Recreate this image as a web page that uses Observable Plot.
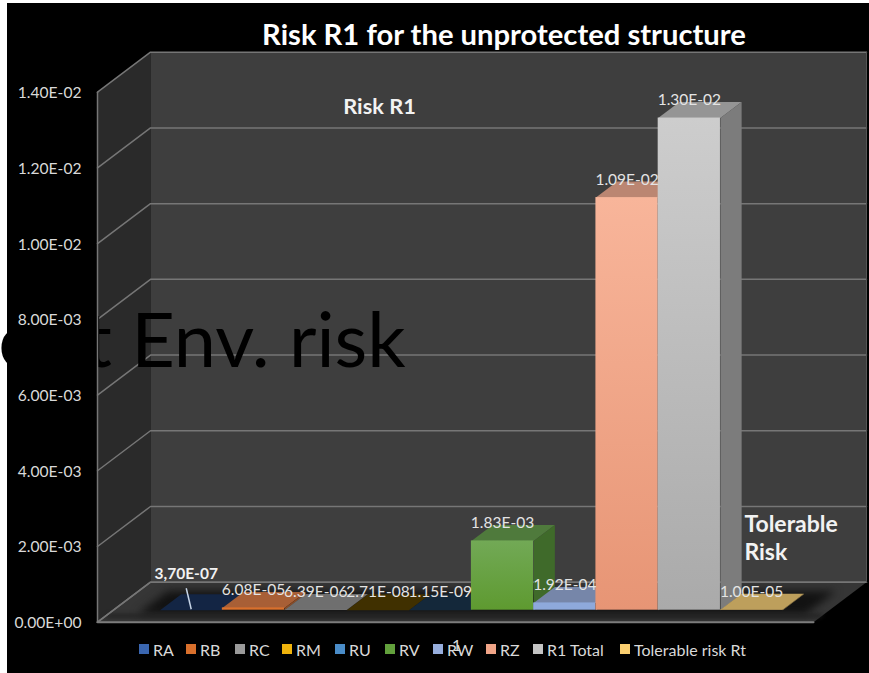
<!DOCTYPE html>
<html>
<head>
<meta charset="utf-8">
<script src="https://cdn.jsdelivr.net/npm/d3@7"></script>
<script src="https://cdn.jsdelivr.net/npm/@observablehq/plot@0.6"></script>
<style>
  html, body { margin: 0; background: #fff; font-family: Lato, sans-serif; }
  #page { margin: 3px 0 0 7px; width: 862px; height: 670px; background: #000; position: relative; }
  #title { margin-left: 135px; width: 724px; height: 28px; padding-top: 17px; line-height: 28px; text-align: center;
           color: #fff; font-weight: 700; font-size: 29.2px; white-space: nowrap; }
  #legend { position: relative; height: 22px; padding-left: 132px; display: flex; align-items: center;
            color: #d9d9d9; font-size: 16px; box-sizing: border-box; }
  #legend .item { display: flex; align-items: center; gap: 4px; white-space: nowrap; flex: none; }
  #legend .swatch { width: 10px; height: 10px; display: inline-block; }
  #legend .axis1 { position: absolute; left: 445px; top: -3px; color: #d9d9d9; }
</style>
</head>
<body>
<div id="page">
  <div id="title">Risk R1 for the unprotected structure</div>
  <div id="chart"></div>
  <div id="legend"></div>
</div>
<script>
// Risk components of the unprotected structure
const categories = ["RA", "RB", "RC", "RM", "RU", "RV", "RW", "RZ", "R1 Total", "Tolerable risk Rt"];
const values = [3.7e-7, 6.08e-5, 6.39e-6, 2.71e-8, 1.15e-9, 1.83e-3, 1.92e-4, 1.09e-2, 1.30e-2, 1.0e-5];
const yTicks = [0, 0.002, 0.004, 0.006, 0.008, 0.01, 0.012, 0.014];

// Series colours: legend key, lit front face, shaded top and side faces
const keyColors = ["#3a66b0", "#d9702c", "#9a9a9a", "#efb30c", "#4a8cc8", "#62a03c", "#97aedd", "#f0a487", "#c4c4c4", "#fbcf70"];
const frontTop = ["#16294c", "#d9702c", "#7c7c7c", "#4a3800", "#14283c", "#72a956", "#8ea9db", "#f8b59a", "#cdcdcd", "#c7a55f"];
const frontBottom = ["#16294c", "#d9702c", "#7c7c7c", "#4a3800", "#14283c", "#5e9a30", "#8ea9db", "#e79575", "#aaaaaa", "#c7a55f"];
const topColors = ["#132544", "#a85f36", "#6f6f6f", "#403000", "#14283a", "#4f7a3c", "#7686a9", "#bb8672", "#959595", "#bd9f5c"];
const sideColors = ["#10203a", "#8a4d28", "#5c5c5c", "#332700", "#10202f", "#3f6a2a", "#66749a", "#9b6f5e", "#7c7c7c", "#a08650"];

// Column width of each legend entry
const legendWidths = [47, 49, 47, 53, 50, 48, 53, 47, 87, 130];

const fontFamily = "Lato, sans-serif";
const xMin = -0.75, xMax = 10.75, yMax = 0.014;

// Oblique projection: one unit of depth slides a point along the floor towards the back wall
const depthX = 53 / 62.26, depthY = 40 / 37860;
const pt = (u, v, d = 0) => ({x: u + d * depthX, y: v + d * depthY});
const barFront = 0.3, barBack = 0.7;

const formatE = v => {
  const [m, e] = v.toExponential(2).toUpperCase().split("E");
  const sign = e[0] === "-" ? "-" : "+";
  return `${m}E${sign}${e.replace(/[-+]/, "").padStart(2, "0")}`;
};
const labels = values.map(formatE).map((t, i) => i === 0 ? t.replace(".", ",") : t);

const poly = (points, fill, extra = {}) =>
  Plot.line(points, {x: "x", y: "y", fill, stroke: "none", ...extra});
const edge = (points, stroke = "#767676", strokeWidth = 1.5) =>
  Plot.line(points, {x: "x", y: "y", stroke, strokeWidth, fill: "none"});

// Gradient definitions used by the front faces
const gradients = () => {
  const defs = d3.create("svg:defs");
  categories.forEach((c, i) => {
    const g = defs.append("linearGradient").attr("id", `front${i}`)
      .attr("x1", 0).attr("x2", 0).attr("y1", 0).attr("y2", 1);
    g.append("stop").attr("offset", 0).attr("stop-color", frontTop[i]);
    g.append("stop").attr("offset", 1).attr("stop-color", frontBottom[i]);
  });
  return defs.node();
};

// Walls and floor of the chart box
const box = [
  poly([pt(xMin, 0), pt(xMin, 0, 1), pt(xMin, yMax, 1), pt(xMin, yMax)], "#2a2a2a"),
  poly([pt(xMin, 0, 1), pt(xMax, 0, 1), pt(xMax, yMax, 1), pt(xMin, yMax, 1)], "#3e3e3e"),
  poly([pt(xMin, 0), pt(xMax, 0), pt(xMax, 0, 1), pt(xMin, 0, 1)], "#363636"),
  poly([pt(-0.28, 0, 0.2), pt(10.45, 0, 0.2), pt(10.45, 0, 0.78), pt(-0.28, 0, 0.78)], "#121212", {imageFilter: "blur(4px)"}),
  poly([pt(xMin, 0, 0.12), pt(xMax, 0, 0.12), pt(xMax, 0, 0.2), pt(xMin, 0, 0.2)], "#1f1f1f", {imageFilter: "blur(2px)"})
];

// Horizontal gridlines running along the side wall and the back wall
const grid = yTicks.map(v => edge([pt(xMin, v), pt(xMin, v, 1), pt(xMax, v, 1)]));

// One block per category: top, side, then the lit front
const bars = categories.flatMap((c, i) => {
  const v = values[i];
  return [
    poly([pt(i, v, barFront), pt(i + 1, v, barFront), pt(i + 1, v, barBack), pt(i, v, barBack)], topColors[i]),
    poly([pt(i + 1, 0, barFront), pt(i + 1, 0, barBack), pt(i + 1, v, barBack), pt(i + 1, v, barFront)], sideColors[i]),
    Plot.rect([i], {
      x1: pt(i, 0, barFront).x, x2: pt(i + 1, 0, barFront).x,
      y1: pt(0, 0, barFront).y, y2: pt(0, v, barFront).y,
      fill: `url(#front${i})`
    })
  ];
});

// Value labels over each block, the first one called out with a leader
const valueLabels = Plot.text(categories.map((c, i) => i).slice(1), {
  x: i => pt(i + 0.5, 0, barFront).x,
  y: i => pt(i + 0.5, values[i], barFront).y,
  text: i => labels[i],
  dy: -18, fontSize: 15.5, fill: "#e4e4e4", fontFamily
});
const leaderTop = pt(0.42, 5.8e-4, barFront), leaderBase = pt(0.5, 2.6e-5, barFront);
const leader = Plot.link([0], {
  x1: leaderTop.x, y1: leaderTop.y, x2: leaderBase.x, y2: leaderBase.y,
  stroke: "#c6d4e6", strokeWidth: 1.5
});
const firstLabel = Plot.text([labels[0]], {
  x: pt(0.42, 0, barFront).x, y: pt(0, 9.5e-4, barFront).y, text: d => d,
  fontSize: 15.5, fontWeight: 700, fill: "#f2f2f2", fontFamily
});

// Notes written on the chart
const notes = [
  Plot.text(["Risk R1"], {x: 3.78, y: 0.0136, text: d => d, fontSize: 21.8, fontWeight: 700, fill: "#f2f2f2", fontFamily}),
  Plot.text(["Tolerable\nRisk"], {x: 9.64, y: 0.00226, text: d => d, textAnchor: "start", lineHeight: 1.22, fontSize: 23, fontWeight: 700, fill: "#f2f2f2", fontFamily})
];
const strayText = "ost Env. risk";
const stray = Plot.text([strayText], {
  x: 4.2, y: 0.00738, text: d => d, textAnchor: "end", fontSize: 75.6, fill: "#000", fontFamily
});

const chart = Plot.plot({
  width: 869, height: 590,
  marginTop: 43.7, marginBottom: 16.3, marginLeft: 97, marginRight: 56,
  x: {type: "linear", domain: [xMin, xMax], axis: null},
  y: {type: "linear", domain: [0, yMax], axis: null},
  style: {background: "transparent", overflow: "visible", fontFamily, maxWidth: "none", display: "block", marginLeft: "-7px"},
  marks: [
    gradients,
    ...box,
    ...grid,
    edge([pt(xMin, 0), pt(xMin, 0, 1), pt(xMax, 0, 1)]),
    edge([pt(xMax, 0, 1), pt(xMax, yMax, 1)], "#555", 1),
    ...bars,
    valueLabels,
    leader,
    firstLabel,
    ...notes,
    stray,
    edge([pt(xMin, 0), pt(xMin, yMax)]),
    edge([pt(xMin, 0), pt(xMax, 0)], "#7c7c7c", 2),
    Plot.axisY(yTicks, {tickSize: 0, tickPadding: 16, tickFormat: formatE, fontSize: 15.6, dy: 1, fill: "#d9d9d9", label: null})
  ]
});
document.getElementById("chart").append(chart);

// Open the spacing after the first letter of the large overlay text
const strayNode = [...chart.querySelectorAll("text")].find(t => t.textContent === strayText);
d3.select(strayNode).text(null).call(sel => {
  sel.append("tspan").text(strayText[0]);
  sel.append("tspan").attr("dx", 11).text(strayText.slice(1));
});

// Legend row below the plot
const legend = d3.select("#legend");
const items = legend.selectAll(".item").data(categories).join("div").attr("class", "item")
  .style("width", (d, i) => `${legendWidths[i]}px`);
items.append("span").attr("class", "swatch").style("background", (d, i) => keyColors[i]);
items.append("span").text(d => d);
legend.append("span").attr("class", "axis1").text("1");
</script>
</body>
</html>
